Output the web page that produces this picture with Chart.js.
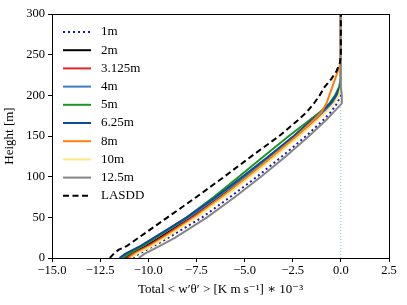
<!DOCTYPE html>
<html>
<head>
<meta charset="utf-8">
<script src="https://cdn.jsdelivr.net/npm/chart.js@4"></script>
<style>
  html, body { margin: 0; padding: 0; background: #fff; }
  #wrap { width: 407px; height: 305px; }
</style>
</head>
<body>
<div id="wrap"><canvas id="fluxChart" width="407" height="305"></canvas></div>
<script>
// heights [m] shared by every profile
var heights = [0, 5, 10, 15, 25, 50, 75, 100, 125, 150, 170, 180, 190, 200, 210, 220, 230, 240, 250, 300];

// total flux <w'theta'> * 10^-3 at each height
var flux1m    = [-10.8, -10.5, -10.1, -9.7, -8.95, -7.2, -5.75, -4.35, -3.05, -1.8, -0.9, -0.5, -0.2, 0, 0, 0, 0, 0, 0, 0];
var flux2m    = [-11.2, -10.9, -10.5, -10.1, -9.4, -7.8, -6.3, -4.95, -3.6, -2.35, -1.4, -0.9, -0.5, -0.2, -0.05, 0, 0, 0, 0, 0];
var flux3125m = [-11.1, -10.8, -10.4, -10.0, -9.3, -7.7, -6.2, -4.85, -3.5, -2.25, -1.3, -0.85, -0.45, -0.15, 0, 0, 0, 0, 0, 0];
var flux4m    = [-11.4, -11.1, -10.7, -10.3, -9.6, -7.9, -6.4, -5.0, -3.65, -2.35, -1.4, -0.9, -0.45, -0.15, 0, 0, 0, 0, 0, 0];
var flux5m    = [-11.3, -11.0, -10.65, -10.3, -9.6, -8.0, -6.6, -5.3, -4.0, -2.7, -1.6, -1.05, -0.6, -0.3, -0.1, 0, 0, 0, 0, 0];
var flux625m  = [-11.5, -11.2, -10.8, -10.4, -9.7, -8.0, -6.5, -5.1, -3.75, -2.45, -1.5, -1.0, -0.55, -0.25, -0.05, 0, 0, 0, 0, 0];
var flux8m    = [-11.0, -10.7, -10.3, -9.9, -9.2, -7.6, -6.2, -4.85, -3.55, -2.3, -1.4, -1.0, -0.75, -0.6, -0.45, -0.3, -0.15, 0, 0, 0];
var flux10m   = [-10.9, -10.6, -10.2, -9.8, -9.1, -7.5, -6.05, -4.7, -3.4, -2.15, -1.2, -0.75, -0.35, -0.1, 0, 0, 0, 0, 0, 0];
var flux125m  = [-10.5, -10.2, -9.8, -9.4, -8.6, -6.95, -5.5, -4.15, -2.85, -1.65, -0.75, -0.35, 0.05, 0.05, 0, 0, 0, 0, 0, 0];
var fluxLasdd = [-12.0, -11.8, -11.55, -11.1, -10.5, -9.0, -7.5, -6.05, -4.65, -3.2, -2.2, -1.75, -1.4, -1.1, -0.85, -0.5, -0.22, -0.05, 0, 0];

// zero reference line
var zeroX = [0, 0];
var zeroY = [0, 300];

var labels = ['1m', '2m', '3.125m', '4m', '5m', '6.25m', '8m', '10m', '12.5m', 'LASDD'];
var series = [flux1m, flux2m, flux3125m, flux4m, flux5m, flux625m, flux8m, flux10m, flux125m, fluxLasdd];
var colors = ['#1515c8', '#000000', '#e8262a', '#3b7fc0', '#1f951f', '#0c4b96', '#ff7f0e', '#ffe880', '#858585', '#000000'];
var dashes = [[2, 3], [], [], [], [], [], [], [], [], [6, 3.5]];

var serif = "'Liberation Serif', 'DejaVu Serif', serif";

function toPoints(xs, ys) {
    return xs.map(function(x, i) { return { x: x, y: ys[i] }; });
}

var datasets = labels.map(function(lab, i) {
    return {
        label: lab,
        data: toPoints(series[i], heights),
        borderColor: colors[i],
        backgroundColor: colors[i],
        borderWidth: 2,
        borderDash: dashes[i],
        pointRadius: 0,
        showLine: true,
        tension: 0,
        order: labels.length - i
    };
});
datasets.push({
    label: '',
    data: toPoints(zeroX, zeroY),
    borderColor: '#8fbfe6',
    borderWidth: 1,
    borderDash: [1, 2],
    pointRadius: 0,
    showLine: true,
    order: 100
});

// box around the plot + legend inside the axes
var framePlugin = {
    id: 'frame',
    afterDraw: function(chart) {
        var ctx = chart.ctx, a = chart.chartArea;
        ctx.save();
        ctx.strokeStyle = '#000';
        ctx.lineWidth = 1;
        ctx.strokeRect(Math.round(a.left) + 0.5, Math.round(a.top) + 0.5,
            Math.round(a.right - a.left), Math.round(a.bottom - a.top));

        ctx.font = '13px ' + serif;
        ctx.textBaseline = 'middle';
        ctx.textAlign = 'left';
        for (var i = 0; i < labels.length; i++) {
            var y = 32 + i * 18.2;
            ctx.beginPath();
            ctx.strokeStyle = colors[i];
            ctx.lineWidth = 2;
            ctx.setLineDash(dashes[i]);
            ctx.moveTo(63, y);
            ctx.lineTo(91, y);
            ctx.stroke();
            ctx.setLineDash([]);
            ctx.fillStyle = '#000';
            ctx.fillText(labels[i], 101, y);
        }
        ctx.restore();
    }
};

var fluxCtx = document.getElementById('fluxChart').getContext('2d');
var fluxChart = new Chart(fluxCtx, {
    type: 'scatter',
    data: { datasets: datasets },
    options: {
        responsive: false,
        animation: false,
        layout: { padding: { top: 14, right: 18, left: 0, bottom: 0 } },
        plugins: {
            legend: { display: false },
            tooltip: { enabled: false }
        },
        scales: {
            x: {
                type: 'linear',
                min: -15,
                max: 2.5,
                afterFit: function(scale) { scale.height = 47; },
                afterBuildTicks: function(scale) {
                    var t = [];
                    for (var v = -15; v <= 2.5; v += 2.5) t.push({ value: v });
                    scale.ticks = t;
                },
                border: { display: false },
                grid: { drawOnChartArea: false, drawTicks: true, tickLength: 4, color: '#000' },
                ticks: {
                    color: '#000',
                    padding: 1,
                    maxRotation: 0,
                    font: { family: serif, size: 12.5 },
                    callback: function(v) { return v.toFixed(1).replace('-', '\u2212'); }
                },
                title: {
                    display: true,
                    text: 'Total < w\u2032\u03b8\u2032 > [K m s\u207b\u00b9] \u2217 10\u207b\u00b3',
                    color: '#000',
                    font: { family: serif, size: 13 },
                    padding: { top: 0, bottom: 8 }
                }
            },
            y: {
                type: 'linear',
                min: 0,
                max: 300,
                afterFit: function(scale) { scale.width = 52; },
                border: { display: false },
                grid: { drawOnChartArea: false, drawTicks: true, tickLength: 4, color: '#000' },
                ticks: {
                    stepSize: 50,
                    color: '#000',
                    padding: 3,
                    font: { family: serif, size: 12.5 }
                },
                title: {
                    display: true,
                    text: 'Height [m]',
                    color: '#000',
                    font: { family: serif, size: 13 },
                    padding: { top: 2, bottom: 0 }
                }
            }
        }
    },
    plugins: [framePlugin]
});
</script>
</body>
</html>
